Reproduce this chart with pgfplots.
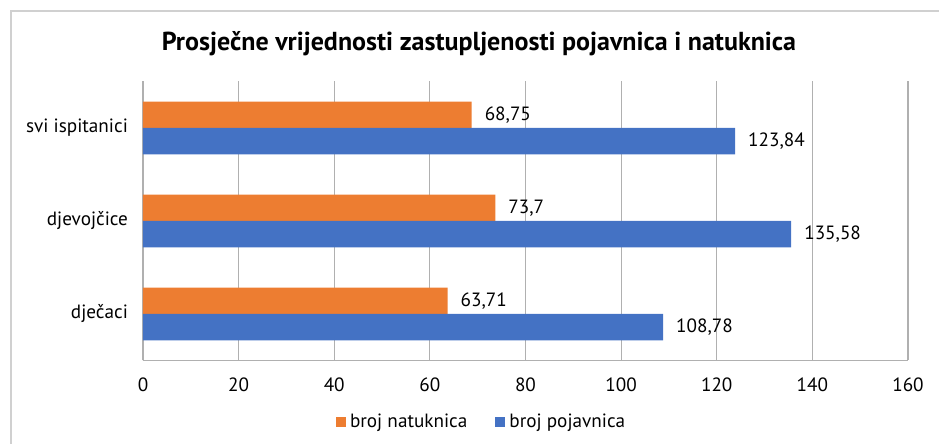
\documentclass[border=0pt]{standalone}
\usepackage{fontspec}
\setmainfont{PT Sans}
\usepackage{pgfplots}
\pgfplotsset{compat=1.18}
\definecolor{orangeS}{HTML}{ED7D31}
\definecolor{blueS}{HTML}{4472C4}
\definecolor{gridc}{HTML}{B0B0B0}
\definecolor{framec}{HTML}{D0D0D0}

\begin{document}
\begin{tikzpicture}[font=\fontsize{9.6}{11}\selectfont]
\useasboundingbox (0,0) rectangle (469.5pt,222pt);
\draw[framec, line width=0.8pt] (5.4pt,-5pt) -- (5.4pt,216.6pt) -- (480pt,216.6pt);
\node[font=\fontsize{13}{15}\selectfont\bfseries] at (239.5pt,200pt) {Prosječne vrijednosti zastupljenosti pojavnica i natuknica};
\begin{axis}[
  at={(71.5pt,41.75pt)}, anchor=south west,
  scale only axis, width=382.5pt, height=139.5pt,
  xmin=0, xmax=160, ymin=-0.5, ymax=2.5,
  xtick={0,20,...,160},
  ytick={0,1,2},
  yticklabels={dječaci,djevojčice,svi ispitanici},
  axis x line*=bottom, axis y line*=left,
  axis line style={gridc, line width=0.6pt, -},
  xmajorgrids, grid style={gridc, line width=0.6pt},
  major tick length=0,
  xticklabel style={yshift=-5pt},
  yticklabel style={xshift=-4pt},
  /pgf/number format/assume math mode=true,
  xbar, bar width=0.283,
  nodes near coords, point meta=explicit symbolic,
  nodes near coords style={anchor=west, xshift=3pt, font=\fontsize{9.6}{11}\selectfont},
  legend style={at={(0.444,-0.22)}, anchor=center, draw=none, fill=none,
    legend columns=2, font=\fontsize{9.6}{11}\selectfont,
    /tikz/every even column/.append style={column sep=12pt}},
  legend image code/.code={\fill[#1] (0pt,-2.5pt) rectangle (5pt,2.5pt);},
]
\addplot[fill=orangeS, draw=none, bar shift=0.1415]
coordinates {(63.71,0) [63,71] (73.7,1) [73,7] (68.75,2) [68,75]};
\addlegendentry{broj natuknica}
\addplot[fill=blueS, draw=none, bar shift=-0.1415]
coordinates {(108.78,0) [108,78] (135.58,1) [135,58] (123.84,2) [123,84]};
\addlegendentry{broj pojavnica}
\end{axis}
\end{tikzpicture}
\end{document}
